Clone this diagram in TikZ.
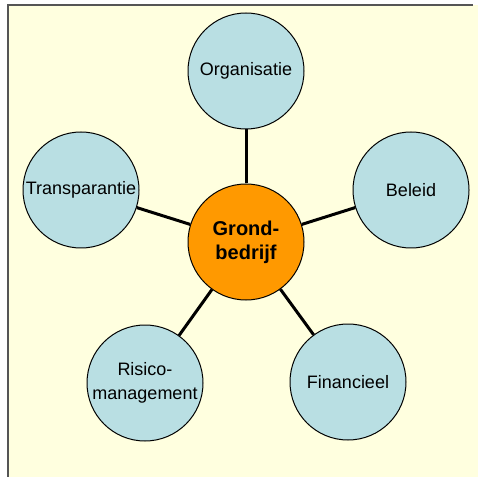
\documentclass[tikz,border=0pt]{standalone}
\usepackage{fontspec}
\setmainfont{Liberation Sans}
\usepackage{tikz}
\usetikzlibrary{positioning}

\definecolor{paper}{HTML}{FFFFDF}
\definecolor{frame}{HTML}{555555}
\definecolor{pool}{HTML}{B9DFE3}
\definecolor{core}{HTML}{FF9900}

\tikzset{
  theme/.style={circle,draw=black,line width=0.75pt,fill=pool,minimum size=87pt,
    inner sep=0pt,align=center,font=\fontsize{13.5pt}{17.5pt}\selectfont},
  hub/.style={theme,fill=core,font=\fontsize{15pt}{18pt}\selectfont\bfseries},
  link/.style={line width=2.25pt,black}
}

\begin{document}
\begin{tikzpicture}[x=0.75pt,y=-0.75pt,on grid]
    \useasboundingbox (0,0) rectangle (478,477);
    \fill[paper] (8,5) rectangle (478,477);
    \draw[frame,line width=1.5pt] (8,477) -- (8,5) -- (473,5);

    \node[hub] (grond) at (246,242) {Grond-\\bedrijf};
    \node[theme] (org)     [above=128.25pt of grond]                  {Organisatie};
    \node[theme] (beleid)  [above right=39pt and 123.75pt of grond]   {Beleid};
    \node[theme] (transp)  [above left=39pt and 123.75pt of grond]    {Transparantie};
    \node[theme] (risico)  [below left=105.75pt and 75.75pt of grond] {Risico-\\management};
    \node[theme] (fin)     [below right=105pt and 76.5pt of grond]    {Financieel};

    \path[link]
    (grond) edge (org)
    (grond) edge (beleid)
    (grond) edge (transp)
    (grond) edge (risico)
    (grond) edge (fin);
  \end{tikzpicture}
\end{document}
